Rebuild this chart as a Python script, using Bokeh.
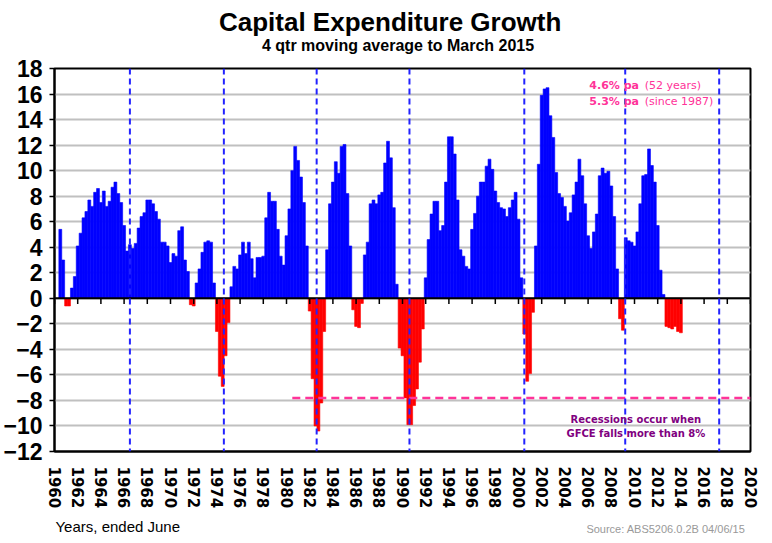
from bokeh.plotting import figure
from bokeh.layouts import column
from bokeh.models import ColumnDataSource, Span, Label, FixedTicker, Range1d
from bokeh.embed import file_html
from bokeh.resources import INLINE

# ---------------- data ----------------
first_quarter = 1960.5          # first 4-qtr moving average shown
quarter_step = 0.25
growth = [
    5.4, 3.0, -0.6, -0.6, 0.8, 1.7, 4.1, 5.1, 6.3, 6.8,
    7.7, 7.2, 8.3, 8.6, 7.5, 8.4, 7.2, 7.6, 8.7, 9.1,
    8.2, 7.5, 5.7, 3.7, 4.2, 3.9, 4.3, 5.5, 6.4, 6.7,
    7.7, 7.7, 7.4, 6.8, 6.2, 4.4, 4.4, 4.1, 2.8, 3.5,
    3.3, 5.3, 5.6, 3.0, 2.1, -0.5, -0.6, 1.2, 2.3, 3.6,
    4.4, 4.5, 4.4, 1.2, -2.6, -6.1, -6.9, -4.5, -1.9, 0.9,
    2.5, 2.3, 3.4, 4.4, 3.5, 4.4, 3.1, 1.6, 3.2, 3.2,
    3.3, 6.3, 8.3, 7.6, 7.6, 5.4, 3.3, 2.6, 4.9, 7.0,
    10.0, 11.9, 10.8, 9.5, 7.5, 4.1, -1.0, -6.3, -10.0, -10.4,
    -8.2, -2.6, 3.8, 7.4, 9.1, 10.7, 9.8, 11.9, 12.05, 8.2,
    4.1, -0.9, -2.2, -2.3, -0.4, 3.4, 4.4, 7.4, 7.7, 7.4,
    8.1, 8.3, 10.6, 12.3, 11.0, 7.1, 1.1, -3.9, -4.5, -7.8,
    -9.9, -9.9, -8.4, -7.1, -5.0, -2.4, 1.6, 4.6, 6.6, 7.6,
    7.6, 5.3, 5.7, 9.1, 12.65, 12.65, 11.3, 7.7, 3.8, 3.3,
    2.5, 2.3, 5.4, 6.65, 8.0, 9.1, 9.1, 10.35, 10.9, 10.1,
    8.4, 7.5, 7.1, 7.0, 6.4, 7.1, 7.7, 8.3, 6.2, 1.6,
    -2.8, -6.5, -5.9, -1.1, 4.1, 10.5, 15.9, 16.4, 16.5, 14.3,
    12.6, 9.85, 8.2, 7.9, 7.2, 6.05, 6.7, 8.1, 9.1, 10.9,
    9.6, 7.4, 4.9, 3.9, 5.2, 6.6, 9.6, 10.2, 9.8, 9.95,
    8.8, 6.4, 2.3, -1.6, -2.5, 4.75, 4.5, 4.4, 4.1, 5.2,
    7.4, 9.6, 9.7, 11.7, 10.4, 9.1, 5.7, 2.2, 0.3, -2.2,
    -2.3, -2.4, -2.2, -2.6, -2.7,
]
event_years = [1966.5, 1974.6, 1982.6, 1990.6, 2000.5, 2009.2, 2017.3]
gfce_threshold = -7.8
threshold_from = 1980.5
x_ticks = list(range(1960, 2021, 2))
y_ticks = list(range(-12, 19, 2))
title_text = "Capital Expenditure Growth"
subtitle_text = "4 qtr moving average to March 2015"
note_rates = [("4.6% pa", "(52 years)"), ("5.3% pa", "(since 1987)")]
note_recession = ["Recessions occur when", "GFCE falls more than 8%"]
x_caption = "Years, ended June"
source_text = "Source: ABS5206.0.2B  04/06/15"

# ---------------- styling / layout ----------------
X_MIN, X_MAX, Y_MIN, Y_MAX = 1960, 2020, -12, 18
PAGE_X0, PAGE_Y0 = 8, 1                          # where the canvas starts on the page
FR_L, FR_R, FR_T, FR_B = 54, 758, 69, 452        # frame edges in page px
W = 760
H_HEAD = 55
MAIN_TOP = PAGE_Y0 + H_HEAD
MAIN_BOTTOM = 515
H_MAIN = MAIN_BOTTOM - MAIN_TOP
H_FOOT = 20
BLUE, RED, PINK, PURPLE = "#0000FF", "#FF0000", "#FF3399", "#800080"


def dx(px):
    return X_MIN + (px - FR_L) * (X_MAX - X_MIN) / (FR_R - FR_L)


def dy(py):
    return Y_MAX - (py - FR_T) * (Y_MAX - Y_MIN) / (FR_B - FR_T)


def text_strip(top, height):
    """A figure without axes whose data coordinates are page pixels (y down)."""
    f = figure(width=W, height=height, output_backend="svg", toolbar_location=None,
               x_range=Range1d(FR_L, FR_R), y_range=Range1d(top + height, top),
               x_axis_type=None, y_axis_type=None,
               min_border_left=0, min_border_right=0, min_border_top=0, min_border_bottom=0)
    f.title = None
    f.outline_line_color = None
    f.grid.grid_line_color = None
    f.background_fill_color = "white"
    f.border_fill_color = "white"
    return f


dates = [first_quarter + quarter_step * i for i in range(len(growth))]
colors = [BLUE if v >= 0 else RED for v in growth]
src = ColumnDataSource(dict(x=dates, top=growth, color=colors))

# ---------- header ----------
head = text_strip(PAGE_Y0, H_HEAD)
head.add_layout(Label(x=393.5, y=22, text=title_text, text_align="center",
                      text_baseline="middle", text_font="Liberation Sans",
                      text_font_style="bold", text_font_size="26px", text_color="black"))
head.add_layout(Label(x=401.5, y=46, text=subtitle_text, text_align="center",
                      text_baseline="middle", text_font="Liberation Sans",
                      text_font_style="bold", text_font_size="16px", text_color="black"))

# ---------- main chart ----------
p = figure(width=W, height=H_MAIN, output_backend="svg", toolbar_location=None,
           x_range=Range1d(X_MIN, X_MAX), y_range=Range1d(Y_MIN, Y_MAX),
           min_border_left=FR_L - PAGE_X0, min_border_right=W - (FR_R - PAGE_X0),
           min_border_top=FR_T - MAIN_TOP, min_border_bottom=MAIN_BOTTOM - FR_B)
p.title = None
p.background_fill_color = "white"
p.border_fill_color = "white"
p.outline_line_color = "black"
p.outline_line_width = 2

p.xgrid.grid_line_color = None
p.ygrid.grid_line_color = "#C0C0C0"
p.ygrid.grid_line_width = 2
p.ygrid.ticker = FixedTicker(ticks=y_ticks)

p.xaxis.ticker = FixedTicker(ticks=x_ticks)
p.xaxis.major_label_orientation = "vertical"
p.xaxis.major_label_text_font = "DejaVu Sans"
p.xaxis.major_label_text_font_style = "bold"
p.xaxis.major_label_text_font_size = "15px"
p.xaxis.major_label_text_color = "black"
p.xaxis.major_label_standoff = 15
p.xaxis.major_tick_out = 0
p.xaxis.major_tick_in = 0
p.xaxis.minor_tick_line_color = None
p.xaxis.axis_line_color = "black"
p.xaxis.axis_line_width = 2

p.yaxis.ticker = FixedTicker(ticks=y_ticks)
p.yaxis.major_label_text_font = "Liberation Sans"
p.yaxis.major_label_text_font_style = "bold"
p.yaxis.major_label_text_font_size = "23px"
p.yaxis.major_label_text_color = "black"
p.yaxis.major_label_standoff = 7
p.yaxis.major_tick_out = 5
p.yaxis.major_tick_in = 0
p.yaxis.major_tick_line_width = 1.5
p.yaxis.minor_tick_line_color = None
p.yaxis.axis_line_color = "black"
p.yaxis.axis_line_width = 2

# bars
p.vbar(x="x", top="top", bottom=0, width=quarter_step, source=src,
       fill_color="color", line_color="color", line_width=0.6)

# pink GFCE threshold
p.line(x=[threshold_from, X_MAX], y=[gfce_threshold, gfce_threshold],
       line_color=PINK, line_width=2.5, line_dash="8 5")

# zero line and small ticks on it
p.add_layout(Span(location=0, dimension="width", line_color="black", line_width=2))
tick_len = 0.45
p.segment(x0=x_ticks, y0=[0] * len(x_ticks), x1=x_ticks,
          y1=[-tick_len] * len(x_ticks), line_color="black", line_width=1.5)

# vertical blue dashed markers
for yr in event_years:
    p.add_layout(Span(location=yr, dimension="height", line_color="#2222FF",
                      line_width=2, line_dash="6 4"))

# in-plot notes
for i, (bold_part, plain_part) in enumerate(note_rates):
    yy = dy(86 + 15.5 * i)
    p.add_layout(Label(x=dx(595), y=yy, text=bold_part, text_align="left",
                       text_baseline="middle", text_font="DejaVu Sans",
                       text_font_style="bold", text_font_size="11px", text_color=PINK))
    p.add_layout(Label(x=dx(651), y=yy, text=plain_part, text_align="left",
                       text_baseline="middle", text_font="DejaVu Sans",
                       text_font_size="11px", text_color=PINK))

for i, line in enumerate(note_recession):
    p.add_layout(Label(x=dx(642), y=dy(420 + 14 * i), text=line, text_align="center",
                       text_baseline="middle", text_font="DejaVu Sans",
                       text_font_style="bold", text_font_size="10px", text_color=PURPLE))

# ---------- footer ----------
foot = text_strip(MAIN_BOTTOM, H_FOOT)
foot.add_layout(Label(x=FR_L + 1, y=527, text=x_caption, text_align="left",
                      text_baseline="middle", text_font="Liberation Sans",
                      text_font_size="15px", text_color="black"))
foot.add_layout(Label(x=592, y=529, text=source_text, text_align="left",
                      text_baseline="middle", text_font="Liberation Sans",
                      text_font_size="11px", text_color="#999999"))

layout = column(head, p, foot, spacing=0)
open("out.html", "w").write(file_html(layout, INLINE))
